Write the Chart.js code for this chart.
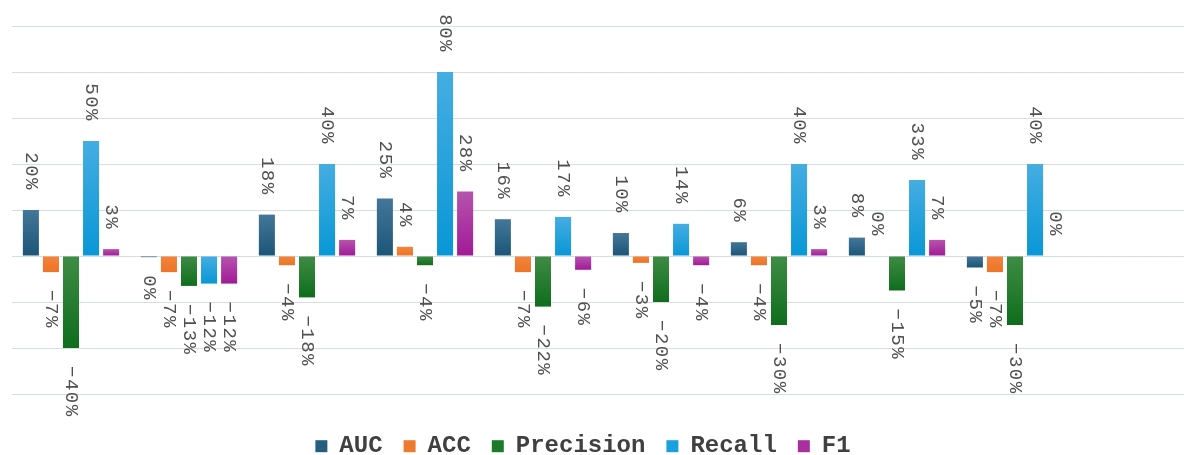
<!DOCTYPE html>
<html>
<head>
<meta charset="utf-8">
<script src="https://cdn.jsdelivr.net/npm/chart.js"></script>
<style>
  html, body { margin: 0; padding: 0; background: #fff; overflow: hidden; }
  #wrap { position: relative; width: 1192px; height: 455px; }
</style>
</head>
<body>
<div id="wrap"><canvas id="myChart"></canvas></div>
<script>
// one group per model, the last slot is empty in the original
const categories = ['1', '2', '3', '4', '5', '6', '7', '8', '9', ''];
const auc       = [20, -0.5, 18, 25, 16, 10, 6, 8, -5];
const acc       = [-7, -7, -4, 4, -7, -3, -4, 0, -7];
const precision = [-40, -13, -18, -4, -22, -20, -30, -15, -30];
const recall    = [50, -12, 40, 80, 17, 14, 40, 33, 40];
const f1        = [3, -12, 7, 28, -6, -4, 3, 7, 0];
const yTicks    = [-60, -40, -20, 0, 20, 40, 60, 80, 100];

const monoFamily = '"Courier New", "Liberation Mono", monospace';

// vertical gradient per bar, from its top edge to its bottom edge
function barGradient(topColor, bottomColor) {
    return (c) => {
        const chart = c.chart;
        const y = chart.scales && chart.scales.y;
        if (!y || c.type !== 'data' || typeof c.raw !== 'number') return bottomColor;
        const y1 = y.getPixelForValue(Math.max(c.raw, 0));
        const y2 = y.getPixelForValue(Math.min(c.raw, 0));
        if (!isFinite(y1) || !isFinite(y2) || Math.abs(y2 - y1) < 1) return bottomColor;
        const g = chart.ctx.createLinearGradient(0, y1, 0, y2);
        g.addColorStop(0, topColor);
        g.addColorStop(1, bottomColor);
        return g;
    };
}

// rotated value labels, reading top to bottom
const valueLabels = {
    id: 'valueLabels',
    afterDatasetsDraw(chart) {
        const ctx = chart.ctx;
        ctx.save();
        ctx.font = '19px ' + monoFamily;
        ctx.fillStyle = '#505050';
        ctx.letterSpacing = '1.5px';
        ctx.textBaseline = 'middle';
        chart.data.datasets.forEach((dataset, di) => {
            const meta = chart.getDatasetMeta(di);
            meta.data.forEach((bar, i) => {
                const v = dataset.data[i];
                if (v === undefined || v === null) return;
                const rounded = Math.round(v);
                const txt = (rounded < 0 ? '\u2212' + Math.abs(rounded) : String(Math.abs(rounded))) + '%';
                ctx.save();
                if (v >= 0) {
                    ctx.translate(bar.x, bar.y - 19);
                    ctx.rotate(Math.PI / 2);
                    ctx.textAlign = 'right';
                } else {
                    ctx.translate(bar.x, bar.y + 18);
                    ctx.rotate(Math.PI / 2);
                    ctx.textAlign = 'left';
                }
                ctx.fillText(txt, 0, 0);
                ctx.restore();
            });
        });
        ctx.restore();
    }
};

// keep the legend band at a fixed height so the plot ends where the original does,
// and nudge it a little left of centre like the original
const legendBand = {
    id: 'legendBand',
    afterInit(chart) {
        const legend = chart.legend;
        if (!legend) return;
        const fit = legend.fit;
        legend.fit = function () {
            fit.call(this);
            this.height = 61;
        };
    },
    afterLayout(chart) {
        if (!chart.legend) return;
        chart.legend.left -= 19;
        chart.legend.right -= 19;
    }
};

const solid = ['#255f80', '#ee7a30', '#1c7a28', '#1aa0dd', '#a8309e'];

const ctx = document.getElementById('myChart').getContext('2d');
new Chart(ctx, {
    type: 'bar',
    data: {
        labels: categories,
        datasets: [
            { label: 'AUC', data: auc, backgroundColor: barGradient('#44779a', '#1b5577') },
            { label: 'ACC', data: acc, backgroundColor: barGradient('#f3843a', '#ec7428') },
            { label: 'Precision', data: precision, backgroundColor: barGradient('#3f8c45', '#0f6d1d') },
            { label: 'Recall', data: recall, backgroundColor: barGradient('#45ade2', '#0897d6') },
            { label: 'F1', data: f1, backgroundColor: barGradient('#b654ad', '#a11a97') }
        ]
    },
    options: {
        responsive: true,
        maintainAspectRatio: false,
        animation: false,
        layout: { padding: { left: 12, right: 0, top: 26, bottom: 0 } },
        datasets: { bar: { barPercentage: 0.8, categoryPercentage: 0.85 } },
        scales: {
            x: {
                display: false,
                grid: { display: false }
            },
            y: {
                min: -60,
                max: 100,
                afterBuildTicks: (axis) => { axis.ticks = yTicks.map(v => ({ value: v })); },
                ticks: { display: false },
                border: { display: false },
                grid: { color: '#d5dde6', lineWidth: 1, drawTicks: false }
            }
        },
        plugins: {
            tooltip: { enabled: false },
            legend: {
                position: 'bottom',
                title: { display: true, text: ' ', font: { size: 1 }, padding: { top: 9, bottom: 9 } },
                labels: {
                    font: { family: monoFamily, size: 24, weight: 'bold' },
                    color: '#404040',
                    boxWidth: 12,
                    boxHeight: 12,
                    padding: 21,
                    generateLabels: (chart) => chart.data.datasets.map((ds, i) => ({
                        text: ds.label,
                        fillStyle: solid[i],
                        strokeStyle: solid[i],
                        lineWidth: 0,
                        hidden: false,
                        datasetIndex: i,
                        fontColor: '#404040'
                    }))
                }
            }
        }
    },
    plugins: [valueLabels, legendBand]
});
</script>
</body>
</html>
